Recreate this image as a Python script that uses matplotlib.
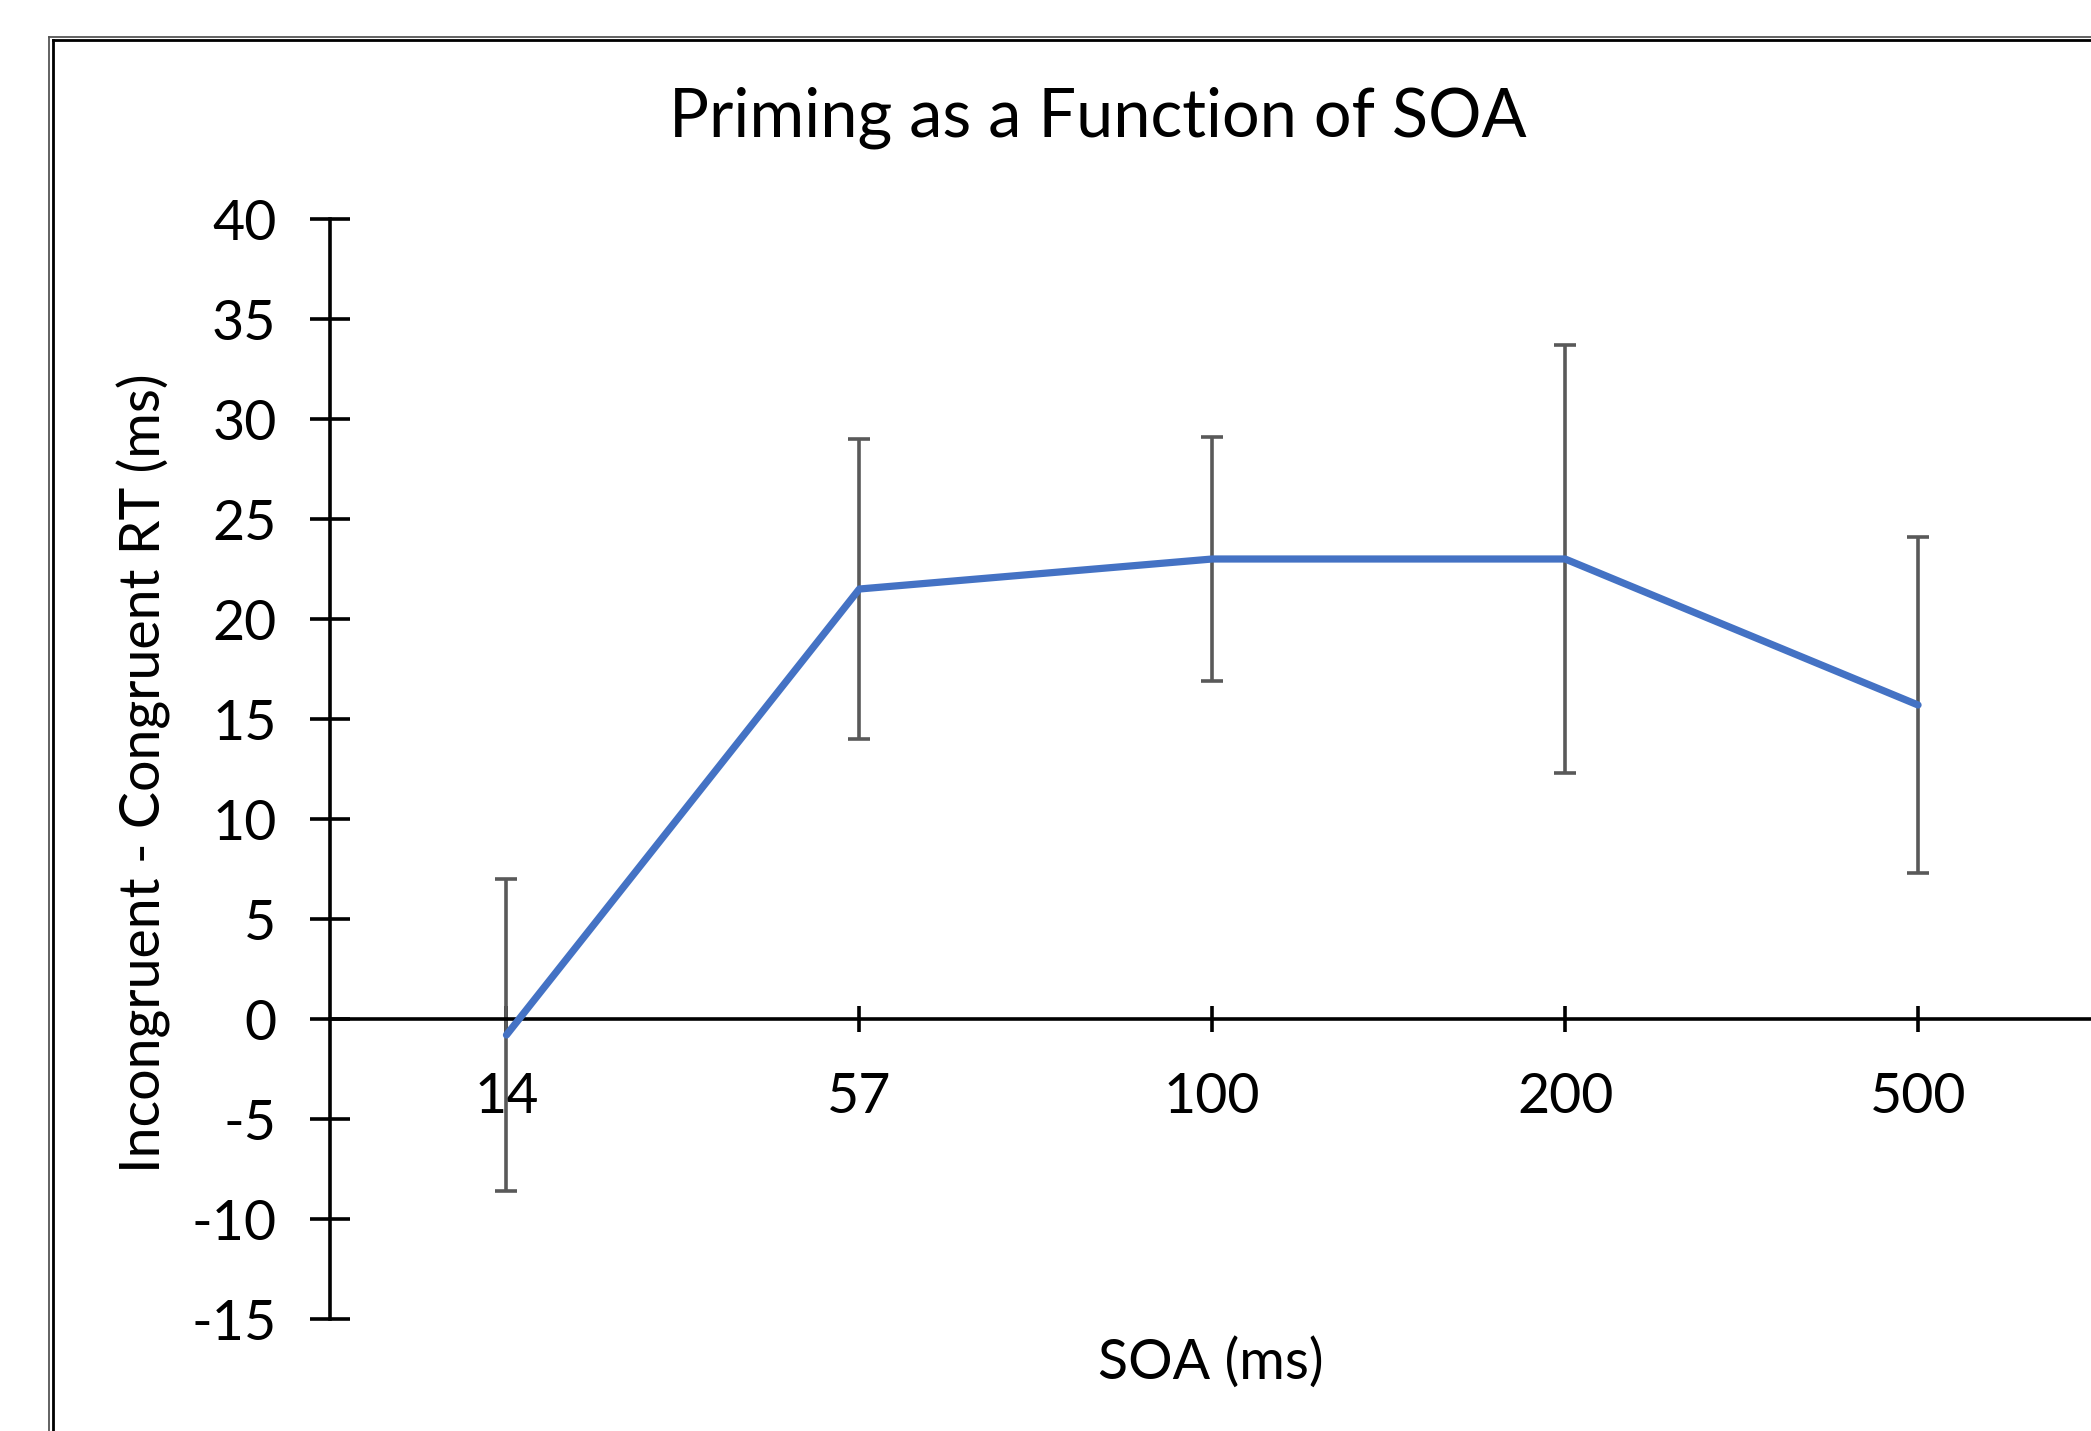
import matplotlib.pyplot as plt
from matplotlib.lines import Line2D

# Data
soa_labels = ['14', '57', '100', '200', '500']
priming = [-0.8, 21.5, 23.0, 23.0, 15.7]
priming_err = [7.8, 7.5, 6.1, 10.7, 8.4]
y_ticks = [40, 35, 30, 25, 20, 15, 10, 5, 0, -5, -10, -15]

plt.rcParams['font.family'] = ['Lato', 'DejaVu Sans']

W, H = 2091, 1431
dpi = 100
fig = plt.figure(figsize=(W / dpi, H / dpi), dpi=dpi)

# Chart frame (double line), cropped at right and bottom like the original
for x0, y0, lw, col in [(48.5, 36.5, 1.8, '#555555'), (52.5, 40.0, 2.8, 'black')]:
    fig.add_artist(Line2D([x0 / W, x0 / W], [1 - y0 / H, -0.1], transform=fig.transFigure,
                          color=col, lw=lw * 0.72))
    fig.add_artist(Line2D([x0 / W, 1.1], [1 - y0 / H, 1 - y0 / H], transform=fig.transFigure,
                          color=col, lw=lw * 0.72))

# plot area: x from 330 to ~2094 px, y from 219 (40) to 1319 (-15)
ax = fig.add_axes([330 / W, 1 - 1319 / H, (2094.5 - 330) / W, (1319 - 219) / H])
ax.patch.set_alpha(0)

x = list(range(len(soa_labels)))
ax.errorbar(x, priming, yerr=priming_err, fmt='none', ecolor='#595959',
            elinewidth=2.6, capsize=8, capthick=2.6, zorder=2)
ax.plot(x, priming, color='#4472C4', lw=5.2, solid_capstyle='round',
        solid_joinstyle='round', zorder=3)

ax.set_xlim(-0.5, len(soa_labels) - 0.5)
ax.set_ylim(-15, 40)
ax.set_yticks(y_ticks)
ax.set_yticklabels([str(v) for v in y_ticks])
ax.set_xticks(x)
ax.set_xticklabels(soa_labels)

for s in ['top', 'right']:
    ax.spines[s].set_visible(False)
ax.spines['bottom'].set_position(('data', 0))
ax.spines['left'].set_linewidth(2.6)
ax.spines['bottom'].set_linewidth(2.6)

ax.tick_params(axis='y', direction='inout', length=29, width=2.6, labelsize=40, pad=24)
ax.tick_params(axis='x', direction='inout', length=19, width=2.6, labelsize=40, pad=29)

fig.text(1098 / W, 1 - 118 / H, 'Priming as a Function of SOA', ha='center', va='center', fontsize=48)
fig.text(1211 / W, 1 - 1363 / H, 'SOA (ms)', ha='center', va='center', fontsize=40)
fig.text(144 / W, 1 - 773 / H, 'Incongruent - Congruent RT (ms)', ha='center', va='center',
         rotation=90, fontsize=40)

fig.savefig('out.png', dpi=dpi)
